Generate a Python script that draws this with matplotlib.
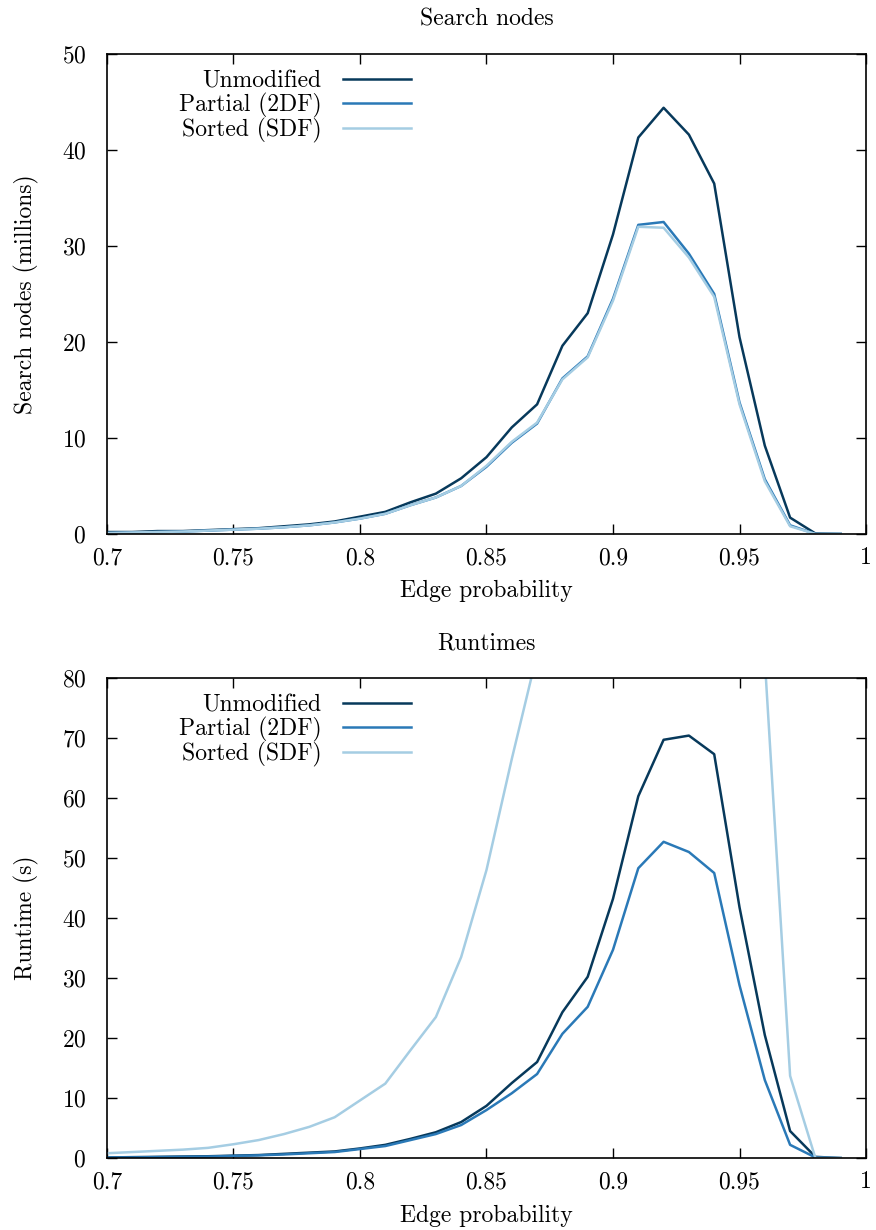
import matplotlib
matplotlib.use("Agg")
import matplotlib.pyplot as plt
from matplotlib.ticker import FuncFormatter

plt.rcParams['font.family'] = ['cmr10', 'DejaVu Serif']
plt.rcParams['axes.formatter.use_mathtext'] = True
plt.rcParams['font.size'] = 17

# edge probabilities 0.70 .. 0.99
edge_prob = [0.70, 0.71, 0.72, 0.73, 0.74, 0.75, 0.76, 0.77, 0.78, 0.79,
             0.80, 0.81, 0.82, 0.83, 0.84, 0.85, 0.86, 0.87, 0.88, 0.89,
             0.90, 0.91, 0.92, 0.93, 0.94, 0.95, 0.96, 0.97, 0.98, 0.99]

# search nodes (millions)
nodes_unmod = [0.2, 0.2, 0.3, 0.3, 0.4, 0.5, 0.6, 0.8, 1.0, 1.3,
               1.8, 2.3, 3.3, 4.2, 5.8, 8.0, 11.1, 13.5, 19.6, 23.0,
               31.2, 41.3, 44.4, 41.6, 36.5, 20.5, 9.2, 1.7, 0.05, 0.0]
nodes_2df = [0.1, 0.15, 0.2, 0.25, 0.35, 0.45, 0.55, 0.7, 0.9, 1.2,
             1.6, 2.1, 3.0, 3.8, 5.0, 7.0, 9.5, 11.5, 16.2, 18.5,
             24.5, 32.2, 32.5, 29.2, 25.0, 13.7, 5.7, 0.9, 0.0, 0.0]
nodes_sdf = [0.1, 0.15, 0.2, 0.25, 0.35, 0.45, 0.55, 0.7, 0.9, 1.2,
             1.6, 2.1, 3.0, 3.8, 5.0, 7.1, 9.6, 11.6, 16.1, 18.4,
             24.3, 32.0, 31.9, 28.8, 24.7, 13.5, 5.5, 0.8, 0.0, 0.0]

# runtimes (s)
time_unmod = [0.1, 0.15, 0.2, 0.25, 0.3, 0.4, 0.5, 0.7, 0.9, 1.1,
              1.6, 2.2, 3.2, 4.3, 6.0, 8.7, 12.5, 16.0, 24.3, 30.2,
              43.2, 60.3, 69.7, 70.4, 67.3, 41.8, 20.5, 4.5, 0.2, 0.0]
time_2df = [0.1, 0.1, 0.15, 0.2, 0.25, 0.35, 0.45, 0.6, 0.8, 1.0,
            1.5, 2.0, 3.0, 4.0, 5.5, 8.0, 10.8, 14.0, 20.7, 25.2,
            34.7, 48.3, 52.7, 51.0, 47.5, 28.8, 13.0, 2.2, 0.1, 0.0]
time_sdf = [0.8, 1.0, 1.2, 1.4, 1.7, 2.3, 3.0, 4.0, 5.2, 6.8,
            9.6, 12.4, 18.0, 23.5, 33.5, 48.0, 66.5, 84.0, 110.0, 140.0,
            170.0, 190.0, 200.0, 195.0, 170.0, 130.0, 83.0, 13.7, 0.0, 0.0]

series_names = ["Unmodified", "Partial (2DF)", "Sorted (SDF)"]
colors = ["#07395b", "#2a79b7", "#a5cde3"]

fig = plt.figure(figsize=(8.76, 12.3), dpi=100)
ax1 = fig.add_axes([0.1221, 0.5659, 0.8665, 0.3902])
ax2 = fig.add_axes([0.1221, 0.0585, 0.8665, 0.3903])

panels = [
    (ax1, [nodes_unmod, nodes_2df, nodes_sdf], "Search nodes",
     "Search nodes (millions)", 50, 10),
    (ax2, [time_unmod, time_2df, time_sdf], "Runtimes",
     "Runtime (s)", 80, 10),
]

fmt = FuncFormatter(lambda v, p: "%g" % round(v, 4))

for ax, data, title, ylabel, ymax, ystep in panels:
    for vals, name, c in zip(data, series_names, colors):
        ax.plot(edge_prob, vals, color=c, lw=1.8, label=name)
    ax.set_xlim(0.7, 1.0)
    ax.set_ylim(0, ymax)
    ax.set_xticks([0.7, 0.75, 0.8, 0.85, 0.9, 0.95, 1.0])
    ax.set_yticks(range(0, ymax + 1, ystep))
    ax.xaxis.set_major_formatter(fmt)
    ax.tick_params(direction='in', length=7, width=1, top=True, right=True)
    ax.tick_params(axis='x', pad=9.5)
    ax.tick_params(axis='y', pad=15)
    for s in ax.spines.values():
        s.set_linewidth(1.2)
    ax.set_title(title, fontsize=17, pad=20.5)
    ax.set_xlabel("Edge probability", labelpad=8)
    ax.set_ylabel(ylabel, labelpad=16)
    ax.legend(loc='upper left', bbox_to_anchor=(0.079, 0.99), frameon=False,
              markerfirst=False, borderpad=0, handlelength=2.9,
              handletextpad=0.9, labelspacing=0.0)

fig.savefig("out.png", dpi=100)
